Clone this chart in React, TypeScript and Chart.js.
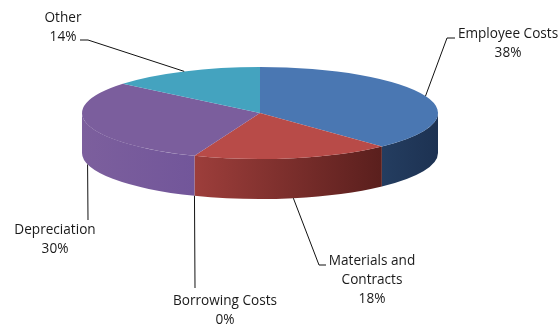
import React, { useEffect, useRef } from "react";
import { Chart, registerables } from "chart.js";

Chart.register(...registerables);

const CATEGORIES = ["Employee Costs", "Materials and Contracts", "Borrowing Costs", "Depreciation", "Other"];
const CATEGORY_LINES = [["Employee Costs"], ["Materials and", "Contracts"], ["Borrowing Costs"], ["Depreciation"], ["Other"]];
const VALUES = [38, 18, 0, 30, 14];

const TOP_COLORS = ["#4A77B2", "#B84B48", "#9BBB59", "#7B5E9D", "#44A3BF"];
const SIDE_COLORS = [
  ["#243D60", "#1D3252"],
  ["#9D3E3B", "#5A1F1D"],
  ["#6E8A3E", "#5B7433"],
  ["#7C5F9D", "#72569A"],
  ["#357F96", "#2C6A7E"],
];

// projection of the pie (layout)
const CX = 260;
const CY = 113;
const RX = 178;
const RY = 46;
const DEPTH = 40;

// label layout: text centre, leader elbow and leader end
const LABEL_LAYOUT = [
  { tx: 508, ty: 34, elbow: [447, 38], end: [455, 38] },
  { tx: 372, ty: 261, elbow: [319, 265], end: [326, 265] },
  { tx: 225, ty: 301, elbow: [195, 288], end: [195, 288] },
  { tx: 55, ty: 230, elbow: [88, 220], end: [88, 220] },
  { tx: 63, ty: 18, elbow: [88, 40], end: [80, 40] },
];

const FONT = '13.6px "Open Sans", sans-serif';
const LINE_H = 19;

function norm(a: number) {
  const t = Math.PI * 2;
  return ((a % t) + t) % t;
}

const pie3d = {
  id: "pie3d",
  beforeDatasetsDraw(chart: any) {
    const ctx: CanvasRenderingContext2D = chart.ctx;
    const meta = chart.getDatasetMeta(0);
    const arcs = meta.data as any[];
    if (!arcs.length) return;
    // side walls (front half only)
    arcs.forEach((arc: any, i: number) => {
      const s = arc.startAngle;
      const e = arc.endAngle;
      if (e - s <= 1e-6) return;
      const ranges: [number, number][] = [];
      const base = s - norm(s);
      for (let k = -1; k <= 2; k++) {
        const lo = base + k * Math.PI * 2;
        const hi = lo + Math.PI;
        const a = Math.max(s, lo);
        const b = Math.min(e, hi);
        if (b > a) ranges.push([a, b]);
      }
      ranges.forEach(([a, b]) => {
        const xa = CX + RX * Math.cos(a);
        const xb = CX + RX * Math.cos(b);
        const g = ctx.createLinearGradient(Math.min(xa, xb), 0, Math.max(xa, xb), 0);
        g.addColorStop(0, SIDE_COLORS[i][0]);
        g.addColorStop(1, SIDE_COLORS[i][1]);
        ctx.save();
        ctx.beginPath();
        ctx.ellipse(CX, CY, RX, RY, 0, a, b, false);
        ctx.lineTo(CX + RX * Math.cos(b), CY + DEPTH + RY * Math.sin(b));
        ctx.ellipse(CX, CY + DEPTH, RX, RY, 0, b, a, true);
        ctx.closePath();
        ctx.fillStyle = g;
        ctx.fill();
        ctx.restore();
      });
    });
    const a0 = arcs[0];
    const R = a0.outerRadius;
    ctx.save();
    ctx.translate(CX, CY);
    ctx.scale(RX / R, RY / R);
    ctx.translate(-a0.x, -a0.y);
  },
  afterDatasetsDraw(chart: any) {
    const ctx: CanvasRenderingContext2D = chart.ctx;
    ctx.restore();
    const meta = chart.getDatasetMeta(0);
    const arcs = meta.data as any[];
    const total = VALUES.reduce((p, v) => p + v, 0);
    ctx.save();
    arcs.forEach((arc: any, i: number) => {
      const mid = (arc.startAngle + arc.endAngle) / 2;
      const sx = CX + RX * Math.cos(mid);
      let sy = CY + RY * Math.sin(mid);
      if (Math.sin(mid) > 0) sy += DEPTH;
      const L = LABEL_LAYOUT[i];
      ctx.beginPath();
      ctx.moveTo(sx, sy);
      ctx.lineTo(L.elbow[0], L.elbow[1]);
      ctx.lineTo(L.end[0], L.end[1]);
      ctx.strokeStyle = "#111";
      ctx.lineWidth = 1;
      ctx.stroke();
      const lines = [...CATEGORY_LINES[i], Math.round((VALUES[i] / total) * 100) + "%"];
      ctx.font = FONT;
      ctx.fillStyle = "#1a1a1a";
      ctx.textAlign = "center";
      ctx.textBaseline = "middle";
      lines.forEach((t, k) => ctx.fillText(t, L.tx, L.ty + k * LINE_H));
    });
    ctx.restore();
  },
};

export default function App() {
  const ref = useRef<HTMLCanvasElement>(null);
  useEffect(() => {
    if (!ref.current) return;
    const chart = new Chart(ref.current, {
      type: "pie",
      data: {
        labels: CATEGORIES,
        datasets: [
          {
            data: VALUES,
            backgroundColor: TOP_COLORS,
            borderWidth: 0,
            clip: false as any,
          },
        ],
      },
      options: {
        animation: false,
        responsive: true,
        maintainAspectRatio: false,
        events: [],
        plugins: { legend: { display: false }, tooltip: { enabled: false } },
      },
      plugins: [pie3d],
    });
    return () => chart.destroy();
  }, []);
  return (
    <div style={{ position: "fixed", left: 0, top: 0, width: 560, height: 330, background: "#fff" }}>
      <canvas ref={ref} />
    </div>
  );
}
